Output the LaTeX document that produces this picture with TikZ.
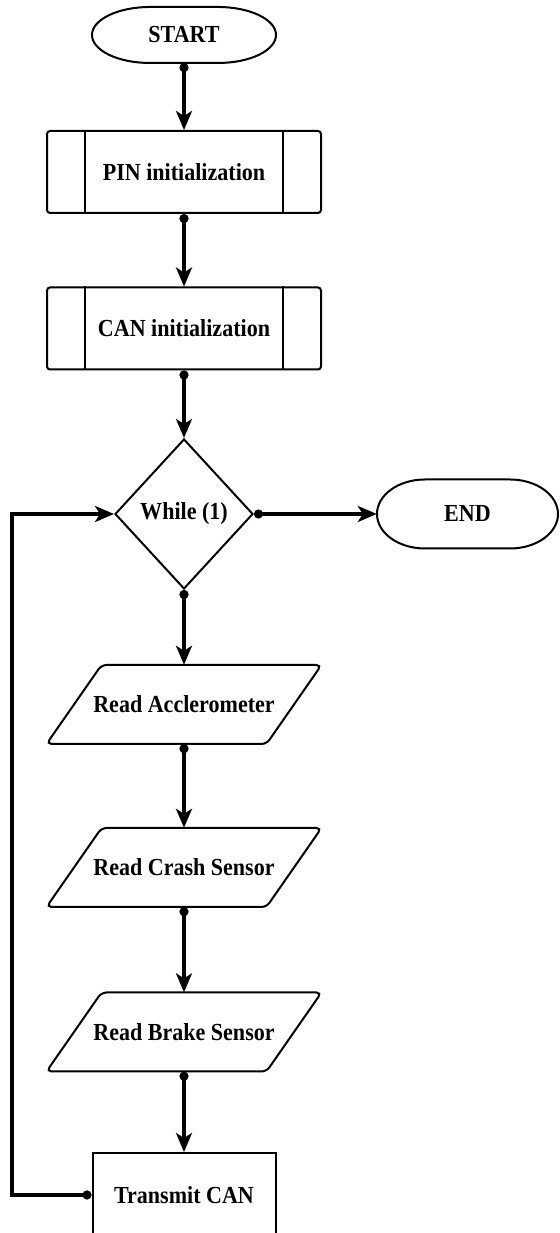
\documentclass[tikz,border=0pt]{standalone}
\usepackage{fontspec}
\setmainfont{Liberation Serif}[FakeStretch=0.9]
\usetikzlibrary{arrows.meta,shapes.geometric}
\tikzset{
  lbl/.style={font=\bfseries\fontsize{24.5}{28}\selectfont, inner sep=0pt, text=black},
  border/.style={draw=black, line width=2pt},
  procbox/.style={lbl, border, rounded corners=3pt, minimum width=274pt, minimum height=82pt},
  plainbox/.style={lbl, border, minimum width=183pt, minimum height=84pt},
  decision/.style={lbl, border, diamond, minimum width=138pt, minimum height=150pt},
  term/.style={lbl},
  iobox/.style={lbl, minimum width=220pt, minimum height=79pt},
  conn/.style={line width=3.3pt, {Circle[length=9pt]}-{Stealth[length=19pt,width=16pt,inset=5pt]}},
}
\newcommand{\termshape}[4]{% name, half width, half height, end x radius
  \draw[border] ([shift={(-#2+#4,#3)}]#1.center) -- ([shift={(#2-#4,#3)}]#1.center)
    arc[start angle=90, end angle=-90, x radius=#4, y radius=#3]
    -- ([shift={(-#2+#4,-#3)}]#1.center)
    arc[start angle=270, end angle=90, x radius=#4, y radius=#3] -- cycle;}
\newcommand{\ioshape}[1]{%
  \draw[border, rounded corners=5pt] ([shift={(-82.5,39.5)}]#1.center) -- ([shift={(137.5,39.5)}]#1.center)
    -- ([shift={(82.5,-39.5)}]#1.center) -- ([shift={(-137.5,-39.5)}]#1.center) -- cycle;}
\newcommand{\sidelines}[1]{%
  \draw[border] ([xshift=39pt]#1.north west) -- ([xshift=39pt]#1.south west);
  \draw[border] ([xshift=-39pt]#1.north east) -- ([xshift=-39pt]#1.south east);}
\begin{document}
\begin{tikzpicture}[x=1pt,y=1pt]
\useasboundingbox (0,0) rectangle (559,1233);
\fill[white] (0,0) rectangle (559,1233);

\node[term, minimum width=184pt, minimum height=56pt] (start) at (184,1198) {START};
\termshape{start}{92}{28}{58}

\node[procbox] (pin) at (184,1061) {PIN initialization};
\sidelines{pin}
\node[procbox] (can) at (184,904.5) {CAN initialization};
\sidelines{can}

\node[decision] (wh) at (184,719) {While (1)};

\node[term, minimum width=181pt, minimum height=69pt] (end) at (467.5,719) {END};
\termshape{end}{90.5}{34.5}{48}

\node[iobox] (acc) at (184,528.5) {Read Acclerometer};
\ioshape{acc}
\node[iobox] (crash) at (184,365.5) {Read Crash Sensor};
\ioshape{crash}
\node[iobox] (brake) at (184,201) {Read Brake Sensor};
\ioshape{brake}

\node[plainbox] (tx) at (184,38) {Transmit CAN};

\draw[conn] (start.south) -- (pin.north);
\draw[conn] (pin.south) -- (can.north);
\draw[conn] (can.south) -- (wh.north);
\draw[conn] (wh.east) -- (end.west);
\draw[conn] (wh.south) -- (acc.north);
\draw[conn] (acc.south) -- (crash.north);
\draw[conn] (crash.south) -- (brake.north);
\draw[conn] (brake.south) -- (tx.north);
\coordinate (lc) at (12,719);
\draw[conn] (tx.west) -| (lc) -- (wh.west);
\end{tikzpicture}
\end{document}
